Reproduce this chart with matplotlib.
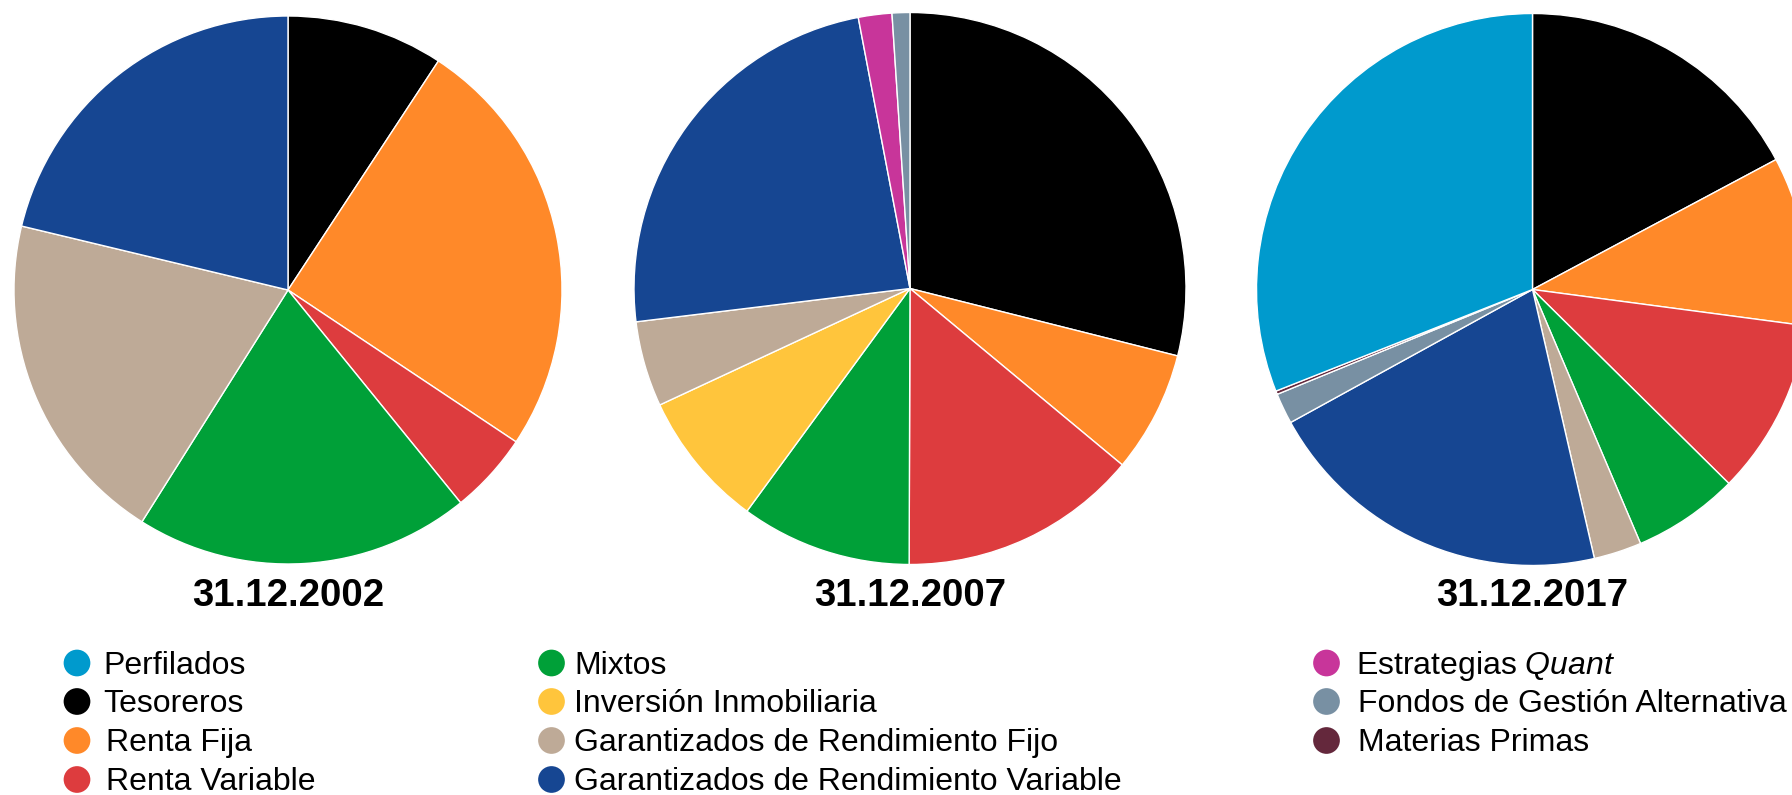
import matplotlib
matplotlib.use("Agg")
import matplotlib.pyplot as plt

plt.rcParams['font.family'] = ['Liberation Sans', 'DejaVu Sans']
plt.rcParams['mathtext.fontset'] = 'custom'
plt.rcParams['mathtext.rm'] = 'Liberation Sans'
plt.rcParams['mathtext.it'] = 'Liberation Sans:italic'

# ---- data ----
categories = ['Perfilados', 'Tesoreros', 'Renta Fija', 'Renta Variable', 'Mixtos',
              'Inversión Inmobiliaria', 'Garantizados de Rendimiento Fijo',
              'Garantizados de Rendimiento Variable', 'Estrategias Quant',
              'Fondos de Gestión Alternativa', 'Materias Primas']
legend_labels = ['Perfilados', 'Tesoreros', 'Renta Fija', 'Renta Variable', 'Mixtos',
                 'Inversión Inmobiliaria', 'Garantizados de Rendimiento Fijo',
                 'Garantizados de Rendimiento Variable', r'Estrategias $\mathit{Quant}$',
                 'Fondos de Gestión Alternativa', 'Materias Primas']
colors = ['#009ACD', '#000000', '#FF8929', '#DD3C3E', '#00A038', '#FFC53C',
          '#BEAA97', '#164692', '#C8359A', '#7890A3', '#64283C']

dates = ['31.12.2002', '31.12.2007', '31.12.2017']
v2002 = [0, 9.25, 25.1, 4.8, 19.8, 0, 19.8, 21.25, 0, 0, 0]
v2007 = [0, 28.9, 7.1, 14.0, 10.0, 8.0, 5.0, 23.9, 1.96, 1.04, 0]
v2017 = [31.0, 17.2, 9.9, 10.3, 6.2, 0, 2.8, 20.6, 0, 1.8, 0.2]
series = [v2002, v2007, v2017]

# clockwise drawing order starting at 12 o'clock
pie_order = [1, 2, 3, 4, 5, 6, 7, 8, 9, 10, 0]

# ---- layout (pixels) ----
W, H = 1792, 795
fig = plt.figure(figsize=(W / 100, H / 100), dpi=100)
fig.patch.set_facecolor('white')

centers = [(288, 290), (910, 288.5), (1532.5, 289.5)]
radii = [274, 276, 276]

for (cx, cy), r, vals, date in zip(centers, radii, series, dates):
    ax = fig.add_axes([(cx - r) / W, (H - cy - r) / H, 2 * r / W, 2 * r / H])
    v = [vals[i] for i in pie_order if vals[i] > 0]
    c = [colors[i] for i in pie_order if vals[i] > 0]
    ax.pie(v, colors=c, startangle=90, counterclock=False, radius=1,
           wedgeprops=dict(edgecolor='white', linewidth=1.0))
    ax.set_xlim(-1, 1)
    ax.set_ylim(-1, 1)
    ax.set_aspect('equal')
    ax.axis('off')
    fig.text(cx / W, 1 - 606 / H, date, ha='center', va='baseline',
             fontsize=27.6, fontweight='bold')

# ---- legend ----
lax = fig.add_axes([0, 0, 1, 1])
lax.set_xlim(0, W)
lax.set_ylim(H, 0)
lax.axis('off')

rows = [663, 701.5, 740.5, 779.5]
columns = [
    (77, 103, [0, 1, 2, 3]),
    (551.5, 574, [4, 5, 6, 7]),
    (1326.5, 1358, [8, 9, 10]),
]
for mx, tx, idxs in columns:
    for row, i in zip(rows, idxs):
        lax.scatter([mx], [row], s=370, color=colors[i], edgecolors='none')
        dx = 3 if i in (2, 3) else 0
        dx -= 2 if i == 8 else 0
        lax.text(tx + dx, row + 10.8, legend_labels[i], ha='left', va='baseline',
                 fontsize=23.05)

fig.savefig('out.png', dpi=100, facecolor='white')
